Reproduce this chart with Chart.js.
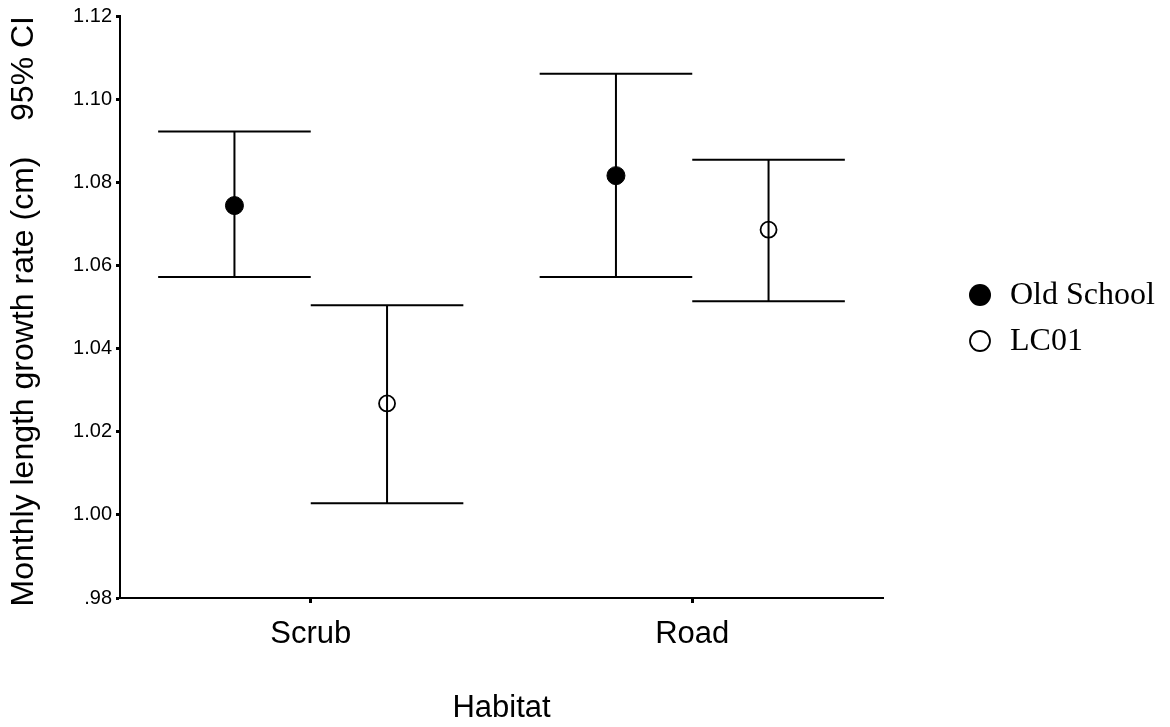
<!DOCTYPE html>
<html>
<head>
<meta charset="utf-8">
<script src="https://cdn.jsdelivr.net/npm/chart.js@4"></script>
<style>
	html, body { margin: 0; padding: 0; background: #ffffff; }
	#wrap { width: 1170px; height: 727px; }
</style>
</head>
<body>
<div id="wrap"><canvas id="myChart" width="1170" height="727"></canvas></div>
<script>
// categories and values
const habitats = ["Scrub", "Road"];
const seriesNames = ["Old School", "LC01"];

const oldSchoolMean = [1.0744, 1.0816];
const oldSchoolLower = [1.0572, 1.0572];
const oldSchoolUpper = [1.0922, 1.1061];

const lc01Mean = [1.0268, 1.0686];
const lc01Lower = [1.0028, 1.0514];
const lc01Upper = [1.0504, 1.0854];

const yTicks = [0.98, 1.0, 1.02, 1.04, 1.06, 1.08, 1.1, 1.12];

const SHIFT = 0.2; // group offset, in category units

const toPoints = (means, lows, highs, shift) =>
	means.map((m, i) => ({ x: i + shift, y: m, lo: lows[i], hi: highs[i] }));

// draws the CI whiskers from each point's lo/hi values
const errorBars = {
	id: "errorBars",
	beforeDatasetsDraw(chart) {
		const ctx = chart.ctx;
		const xs = chart.scales.x;
		const ys = chart.scales.y;
		ctx.save();
		ctx.strokeStyle = "#000000";
		ctx.lineWidth = 2;
		chart.data.datasets.forEach((ds) => {
			ds.data.forEach((p) => {
				const cx = xs.getPixelForValue(p.x);
				const left = xs.getPixelForValue(p.x - SHIFT);
				const right = xs.getPixelForValue(p.x + SHIFT);
				const top = ys.getPixelForValue(p.hi);
				const bottom = ys.getPixelForValue(p.lo);
				ctx.beginPath();
				ctx.moveTo(cx, top);
				ctx.lineTo(cx, bottom);
				ctx.moveTo(left, top);
				ctx.lineTo(right, top);
				ctx.moveTo(left, bottom);
				ctx.lineTo(right, bottom);
				ctx.stroke();
			});
		});
		ctx.restore();
	},
};

// legend on the right, drawn by hand to keep its spot
const sideLegend = {
	id: "sideLegend",
	afterDraw(chart) {
		const ctx = chart.ctx;
		const items = [
			{ text: seriesNames[0], filled: true, y: 295 },
			{ text: seriesNames[1], filled: false, y: 341 },
		];
		ctx.save();
		ctx.font = "32px 'Liberation Serif', 'Times New Roman', serif";
		ctx.textBaseline = "middle";
		ctx.fillStyle = "#000000";
		ctx.strokeStyle = "#000000";
		items.forEach((it) => {
			ctx.beginPath();
			ctx.arc(980, it.y, it.filled ? 11 : 10, 0, Math.PI * 2);
			if (it.filled) {
				ctx.fill();
			} else {
				ctx.lineWidth = 1.8;
				ctx.stroke();
			}
			ctx.fillText(it.text, 1010, it.y + 1);
		});
		ctx.restore();
	},
};

const initChart = () => {
	const myChartCanvas = document.getElementById("myChart");

	return new Chart(myChartCanvas, {
		type: "scatter",
		data: {
			datasets: [
				{
					label: seriesNames[0],
					data: toPoints(oldSchoolMean, oldSchoolLower, oldSchoolUpper, -SHIFT),
					pointRadius: 9,
					pointBackgroundColor: "#000000",
					pointBorderColor: "#000000",
					pointBorderWidth: 1,
				},
				{
					label: seriesNames[1],
					data: toPoints(lc01Mean, lc01Lower, lc01Upper, SHIFT),
					pointRadius: 8,
					pointBackgroundColor: "rgba(0,0,0,0)",
					pointBorderColor: "#000000",
					pointBorderWidth: 1.8,
				},
			],
		},
		options: {
			responsive: false,
			animation: false,
			layout: {
				padding: { top: 15, right: 287, bottom: 0, left: 0 },
			},
			scales: {
				x: {
					type: "linear",
					min: -0.5,
					max: 1.5,
					afterBuildTicks: (scale) => {
						scale.ticks = habitats.map((h, i) => ({ value: i }));
					},
					afterFit: (scale) => {
						scale.height = 129;
					},
					ticks: {
						callback: (v) => habitats[v],
						color: "#000000",
						font: { family: "'Liberation Sans', Arial, sans-serif", size: 31 },
						padding: 13,
						maxRotation: 0,
					},
					grid: {
						drawOnChartArea: false,
						tickLength: 5,
						tickWidth: 3,
						tickColor: "#000000",
					},
					border: { color: "#000000", width: 2 },
					title: {
						display: true,
						text: "Habitat",
						color: "#000000",
						font: { family: "'Liberation Sans', Arial, sans-serif", size: 31 },
						padding: { top: 0, bottom: 0 },
					},
				},
				y: {
					min: 0.98,
					max: 1.12,
					afterBuildTicks: (scale) => {
						scale.ticks = yTicks.map((v) => ({ value: v }));
					},
					afterFit: (scale) => {
						scale.width = 120;
					},
					ticks: {
						callback: (v) => {
							const s = Number(v).toFixed(2);
							return v < 1 ? s.replace(/^0/, "") : s;
						},
						color: "#000000",
						font: { family: "'Liberation Sans', Arial, sans-serif", size: 20 },
						padding: 4,
					},
					grid: {
						drawOnChartArea: false,
						tickLength: 4,
						tickWidth: 3,
						tickColor: "#000000",
					},
					border: { color: "#000000", width: 2 },
					title: {
						display: true,
						align: "end",
						text: "Monthly length growth rate (cm)    95% CI",
						color: "#000000",
						font: { family: "'Liberation Sans', Arial, sans-serif", size: 32 },
						padding: { top: 5, bottom: 4 },
					},
				},
			},
			plugins: {
				legend: { display: false },
				tooltip: { enabled: false },
			},
		},
		plugins: [errorBars, sideLegend],
	});
};

window.onload = () => {
	initChart();
};
</script>
</body>
</html>
